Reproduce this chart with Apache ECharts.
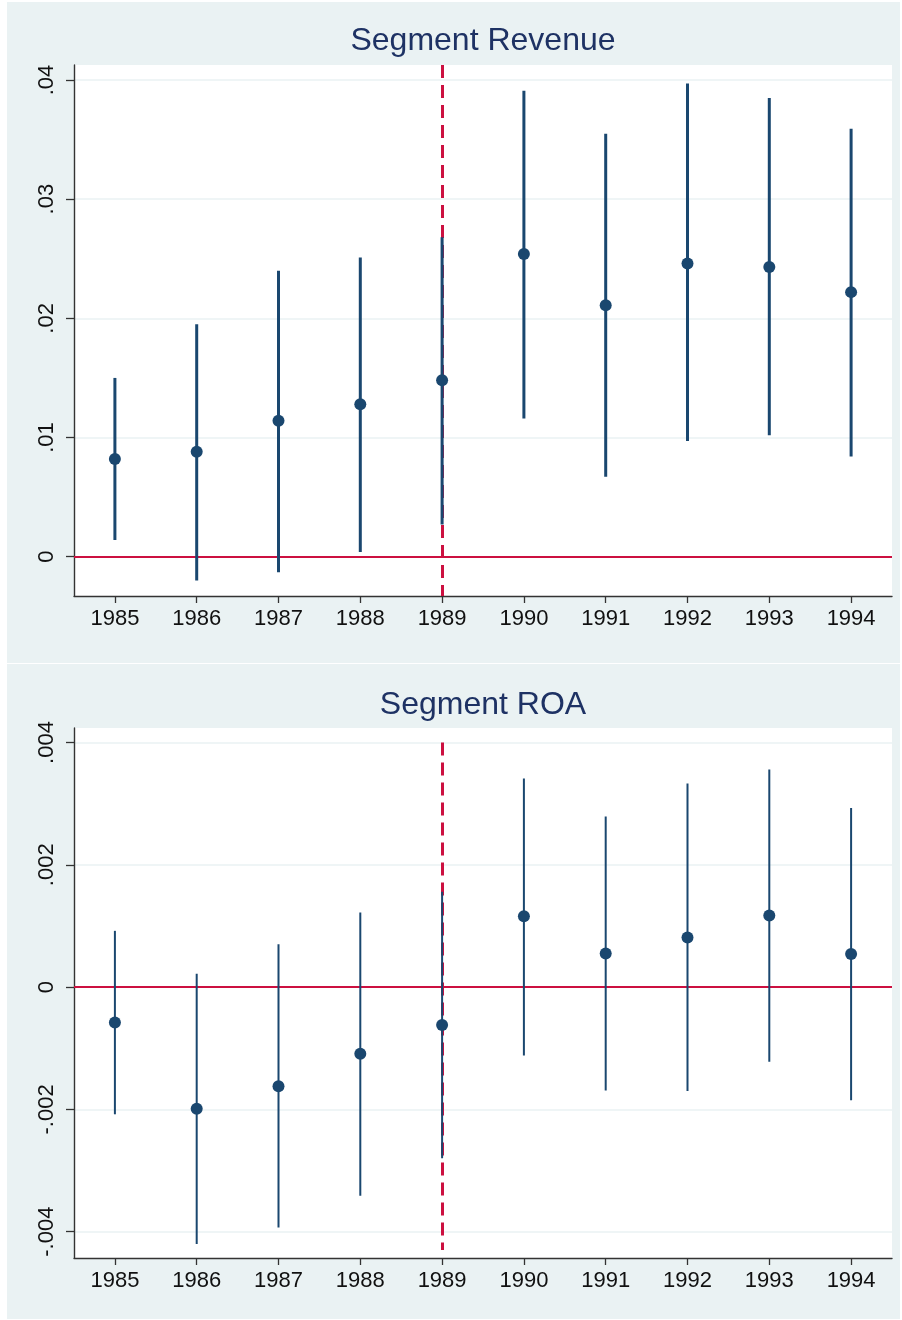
<!DOCTYPE html>
<html>
<head>
<meta charset="utf-8">
<title>Segment Revenue and Segment ROA</title>
<script src="https://cdn.jsdelivr.net/npm/echarts@6/dist/echarts.min.js"></script>
<style>
  html, body { margin: 0; padding: 0; background: #ffffff; }
  #chart { width: 902px; height: 1320px; }
</style>
</head>
<body>
<div id="chart"></div>
<script>
// Event-study estimates by year with confidence intervals
const years = ['1985', '1986', '1987', '1988', '1989', '1990', '1991', '1992', '1993', '1994'];

// Segment revenue: point estimates and interval bounds
const revCoef  = [0.0082, 0.0088, 0.0114, 0.0128, 0.0148, 0.0254, 0.0211, 0.0246, 0.0243, 0.0222];
const revLower = [0.0014, -0.0020, -0.0013, 0.0004, 0.0027, 0.0116, 0.0067, 0.0097, 0.0102, 0.0084];
const revUpper = [0.0150, 0.0195, 0.0240, 0.0251, 0.0268, 0.0391, 0.0355, 0.0397, 0.0385, 0.0359];

// Segment ROA: point estimates and interval bounds
const roaCoef  = [-0.00058, -0.00199, -0.00162, -0.00109, -0.00062, 0.00116, 0.00055, 0.00081, 0.00117, 0.00054];
const roaLower = [-0.00208, -0.00420, -0.00393, -0.00341, -0.00280, -0.00112, -0.00169, -0.00170, -0.00122, -0.00185];
const roaUpper = [0.00092, 0.00022, 0.00070, 0.00122, 0.00156, 0.00341, 0.00279, 0.00333, 0.00356, 0.00293];

// Axis ticks and their printed labels
const revTicks = [0, 0.01, 0.02, 0.03, 0.04];
const revTickLabels = ['0', '.01', '.02', '.03', '.04'];
const roaTicks = [-0.004, -0.002, 0, 0.002, 0.004];
const roaTickLabels = ['-.004', '-.002', '0', '.002', '.004'];

// Axis extents
const revRange = [-0.0033, 0.04126];
const roaRange = [-0.00443, 0.004237];

// Reference lines: zero baseline and the event year
const baseline = 0;
const eventYear = '1989';
const revEventSpan = [0.04126, -0.0033];
const roaEventSpan = [0.004, -0.0043];

const NAVY = '#1A476F';
const RED = '#CC1040';
const AXIS = '#333333';
const GRIDLINE = '#EAF2F3';
const PANEL = '#EAF2F3';
const FONT = '"Liberation Sans", Arial, Helvetica, sans-serif';

function labelFor(ticks, labels) {
  return function (v) {
    const i = ticks.findIndex(t => Math.abs(t - v) < 1e-9);
    return i >= 0 ? labels[i] : '';
  };
}

function xAxisFor(gridIndex) {
  return {
    type: 'category',
    gridIndex: gridIndex,
    data: years,
    boundaryGap: true,
    axisLine: { show: true, onZero: false, lineStyle: { color: AXIS, width: 1.4 } },
    axisTick: { show: true, alignWithLabel: true, length: 7, lineStyle: { color: AXIS, width: 1.3 } },
    axisLabel: { color: '#111111', fontFamily: FONT, fontSize: 22, margin: 12 },
    splitLine: { show: false }
  };
}

function yAxisFor(gridIndex, range, ticks, labels) {
  return {
    type: 'value',
    gridIndex: gridIndex,
    min: range[0],
    max: range[1],
    axisLine: { show: true, onZero: false, lineStyle: { color: AXIS, width: 1.4 } },
    axisTick: { show: true, length: 8, customValues: ticks, lineStyle: { color: AXIS, width: 1.3 } },
    axisLabel: {
      customValues: ticks,
      formatter: labelFor(ticks, labels),
      rotate: 90,
      color: '#111111',
      fontFamily: FONT,
      fontSize: 22,
      margin: 16
    },
    splitLine: { show: true, lineStyle: { color: GRIDLINE, width: 1.5 } }
  };
}

function spikeSeries(idx, lower, upper, width) {
  return {
    type: 'custom',
    xAxisIndex: idx,
    yAxisIndex: idx,
    z: 3,
    silent: true,
    data: years.map((y, i) => [i, lower[i], upper[i]]),
    encode: { x: 0, y: [1, 2] },
    renderItem: function (params, api) {
      const lo = api.coord([api.value(0), api.value(1)]);
      const hi = api.coord([api.value(0), api.value(2)]);
      return {
        type: 'line',
        shape: { x1: lo[0], y1: lo[1], x2: hi[0], y2: hi[1] },
        style: { stroke: NAVY, lineWidth: width, lineCap: 'butt' }
      };
    }
  };
}

function pointSeries(idx, coef) {
  return {
    type: 'scatter',
    xAxisIndex: idx,
    yAxisIndex: idx,
    z: 4,
    silent: true,
    symbol: 'circle',
    symbolSize: 12,
    itemStyle: { color: NAVY, opacity: 1 },
    data: coef
  };
}

function refLineSeries(idx, span) {
  return {
    type: 'line',
    xAxisIndex: idx,
    yAxisIndex: idx,
    z: 1,
    silent: true,
    data: [],
    markLine: {
      z: 1,
      silent: true,
      symbol: ['none', 'none'],
      label: { show: false },
      animation: false,
      data: [
        { yAxis: baseline, lineStyle: { color: RED, width: 2, type: 'solid' } },
        [
          { coord: [eventYear, span[0]], lineStyle: { color: RED, width: 3, type: [13, 7] } },
          { coord: [eventYear, span[1]] }
        ]
      ]
    }
  };
}

const chart = echarts.init(document.getElementById('chart'), null, { renderer: 'canvas' });

chart.setOption({
  animation: false,
  backgroundColor: '#ffffff',
  graphic: [
    { type: 'rect', z: -10, shape: { x: 7, y: 2, width: 893, height: 661 }, style: { fill: PANEL } },
    { type: 'rect', z: -10, shape: { x: 7, y: 664, width: 893, height: 655 }, style: { fill: PANEL } },
    {
      type: 'text', z: 5, x: 483, y: 41,
      style: { text: 'Segment Revenue', align: 'center', verticalAlign: 'middle', font: '32px ' + FONT, fill: '#1E3264' }
    },
    {
      type: 'text', z: 5, x: 483, y: 705,
      style: { text: 'Segment ROA', align: 'center', verticalAlign: 'middle', font: '32px ' + FONT, fill: '#1E3264' }
    }
  ],
  grid: [
    { left: 74, top: 65, width: 818, height: 531, show: true, backgroundColor: '#ffffff', borderWidth: 0 },
    { left: 74, top: 728, width: 818, height: 530, show: true, backgroundColor: '#ffffff', borderWidth: 0 }
  ],
  xAxis: [xAxisFor(0), xAxisFor(1)],
  yAxis: [
    yAxisFor(0, revRange, revTicks, revTickLabels),
    yAxisFor(1, roaRange, roaTicks, roaTickLabels)
  ],
  series: [
    refLineSeries(0, revEventSpan),
    spikeSeries(0, revLower, revUpper, 3),
    pointSeries(0, revCoef),
    refLineSeries(1, roaEventSpan),
    spikeSeries(1, roaLower, roaUpper, 2),
    pointSeries(1, roaCoef)
  ]
});
</script>
</body>
</html>
